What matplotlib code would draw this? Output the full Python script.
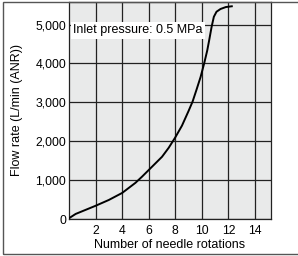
import matplotlib
matplotlib.use("Agg")
import matplotlib.pyplot as plt
from matplotlib.patches import Rectangle
from matplotlib.ticker import FuncFormatter

plt.rcParams['font.family'] = ['Liberation Sans', 'DejaVu Sans']

# flow rate vs number of needle rotations
rotations = [0, 0.5, 1, 1.5, 2, 3, 4, 5, 5.5, 6, 6.5, 7, 7.5, 8, 8.5, 9,
             9.3, 9.6, 9.9, 10.17, 10.4, 10.55, 10.73, 10.9, 11.1, 11.4,
             11.8, 12.25]
flow = [20, 130, 200, 270, 340, 490, 670, 930, 1090, 1260, 1430, 1600,
        1830, 2100, 2400, 2780, 3020, 3330, 3650, 4000, 4330, 4600, 4940,
        5200, 5330, 5400, 5450, 5470]
x_ticks = [2, 4, 6, 8, 10, 12, 14]
y_ticks = [0, 1000, 2000, 3000, 4000, 5000]
note = "Inlet pressure: 0.5 MPa"

fig = plt.figure(figsize=(2.98, 2.56), dpi=100)
ax = fig.add_axes([69 / 298, 37 / 256, 202 / 298, 217 / 256])
ax.set_facecolor('#e9eaea')

ax.plot(rotations, flow, color='black', lw=1.4, zorder=3)

ax.set_xlim(0, 15.2)
ax.set_ylim(0, 5580)
ax.set_xticks(x_ticks)
ax.set_yticks(y_ticks)
ax.yaxis.set_major_formatter(FuncFormatter(lambda v, p: f"{int(v):,}"))
ax.tick_params(length=0, labelsize=8.8, colors='black')
ax.tick_params(axis='x', pad=4)
ax.tick_params(axis='y', pad=2)
ax.grid(True, color='#222222', lw=0.9)
ax.set_axisbelow(True)
for s in ax.spines.values():
    s.set_color('#222222')
    s.set_linewidth(0.9)

ax.set_xlabel("Number of needle rotations", fontsize=9, labelpad=2)
ax.set_ylabel("Flow rate (L/min (ANR))", fontsize=9, labelpad=9)

ax.text(0.3, 4850, note, fontsize=9, va='center', ha='left', zorder=2,
        bbox=dict(facecolor='white', edgecolor='none', pad=1.5))

# outer frame around the whole figure
fig.patches.append(Rectangle((3 / 298, 2.5 / 256), 1.0, 251.5 / 256,
                             transform=fig.transFigure, fill=False,
                             edgecolor='#555555', lw=1.0))

fig.savefig("out.png", dpi=100)
